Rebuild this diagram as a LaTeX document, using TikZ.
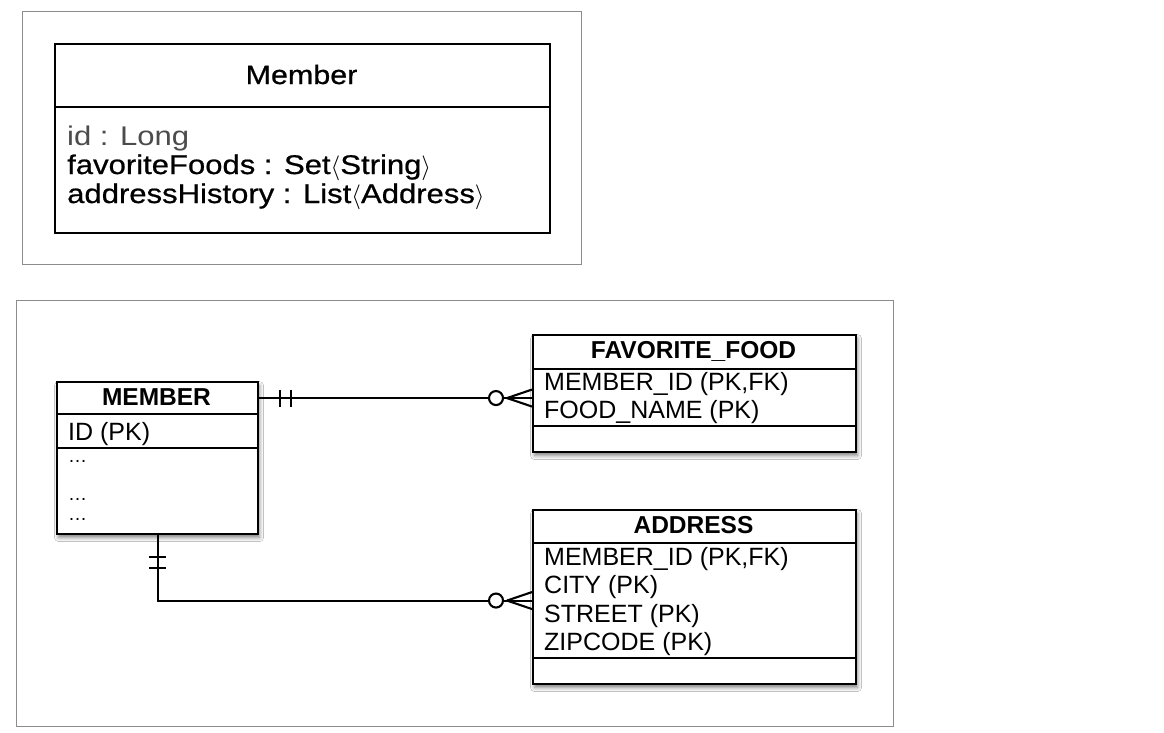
\documentclass[tikz,border=0pt]{standalone}
\usepackage{fontspec}
\setmainfont{Liberation Sans}
\newfontfamily\umlfont[FakeStretch=1.15]{Liberation Sans}
\newfontfamily\umlfontm[FakeStretch=1.15, FakeBold=0.7]{Liberation Sans}
\usetikzlibrary{calc,shadows.blur}
\begin{document}
\begin{tikzpicture}[x=1pt,y=-1pt,
  frame/.style={draw=black!45, line width=1.4pt, inner sep=0pt, anchor=north west},
  box/.style={draw=black, line width=2.1pt, fill=white, inner sep=0pt, anchor=north west},
  tblshadow/.style={blur shadow={shadow xshift=1.5pt, shadow yshift=-3.5pt,
      shadow blur radius=4pt, shadow opacity=50}},
  conn/.style={line width=2.1pt, draw=black},
  headtext/.style={font=\fontsize{24.5}{28}\selectfont\bfseries, anchor=base, inner sep=0pt},
  attrtext/.style={font=\fontsize{25}{28}\selectfont, anchor=base west, inner sep=0pt},
  dotstext/.style={font=\fontsize{19}{20}\selectfont, anchor=base west, inner sep=0pt},
  umltitle/.style={font=\umlfontm\fontsize{26.5}{30}\selectfont, anchor=base, inner sep=0pt},
  umlattr/.style={font=\umlfontm\fontsize{27}{29}\selectfont, anchor=base west, inner sep=0pt},
  umlattrlight/.style={font=\umlfont\fontsize{27}{29}\selectfont, anchor=base west, inner sep=0pt, text=black!70},
  onebar/.pic={\draw[conn] (0,-8.5) -- (0,8.5);},
  manyopt/.pic={
    \draw[conn] (-25,0) -- (0,-8.5);
    \draw[conn] (-25,0) -- (0,8.5);
    \draw[conn, fill=white] (-36,0) circle (7);
  },
]
\useasboundingbox (0,0) rectangle (1164,732);
\fill[white] (0,0) rectangle (1164,732);

% ---- class view ----
\node[frame, minimum width=559pt, minimum height=253pt] (umlframe) at (22,11) {};
\node[box, minimum width=495pt, minimum height=189pt] (umlbox) at (54,43) {};
\node[box, minimum width=495pt, minimum height=63pt] (umlhead) at (54,43) {};
\node[umltitle] (umlname) at (301.5,84) {Member};
\node[umlattrlight] (fid) at (67,145) {id : Long};
\node[umlattr] (ffoods) at (67,174) {favoriteFoods : Set$\langle$String$\rangle$};
\node[umlattr] (fhist) at (67,203) {addressHistory : List$\langle$Address$\rangle$};

% ---- table view ----
\node[frame, minimum width=877pt, minimum height=426pt] (erdframe) at (16,300) {};

% MEMBER
\node[box, tblshadow, minimum width=201pt, minimum height=152pt] (member) at (56,381) {};
\node[box, minimum width=201pt, minimum height=32pt] (mhead) at (56,381) {};
\node[box, minimum width=201pt, minimum height=34pt] (mid) at (56,413) {};
\node[headtext] (mname) at (156.5,405) {MEMBER};
\node[attrtext] (mpk) at (68,440) {ID (PK)};
\node[dotstext] (mdots1) at (68,462) {…};
\node[dotstext] (mdots2) at (68,500) {…};
\node[dotstext] (mdots3) at (68,520) {…};

% FAVORITE_FOOD
\node[box, tblshadow, minimum width=323pt, minimum height=117pt] (food) at (532,334) {};
\node[box, minimum width=323pt, minimum height=34pt] (fhead) at (532,334) {};
\node[box, minimum width=323pt, minimum height=57pt] (fattr) at (532,368) {};
\node[headtext] (fname) at (693.5,358) {FAVORITE\_FOOD};
\node[attrtext] (fa1) at (544,390) {MEMBER\_ID (PK,FK)};
\node[attrtext] (fa2) at (544,418) {FOOD\_NAME (PK)};

% ADDRESS
\node[box, tblshadow, minimum width=323pt, minimum height=174pt] (addr) at (532,509) {};
\node[box, minimum width=323pt, minimum height=33pt] (ahead) at (532,509) {};
\node[box, minimum width=323pt, minimum height=115pt] (aattr) at (532,542) {};
\node[headtext] (aname) at (693.5,533) {ADDRESS};
\node[attrtext] (aa1) at (544,565) {MEMBER\_ID (PK,FK)};
\node[attrtext] (aa2) at (544,593) {CITY (PK)};
\node[attrtext] (aa3) at (544,622) {STREET (PK)};
\node[attrtext] (aa4) at (544,650) {ZIPCODE (PK)};

% relationships
\draw[conn] (mhead.east) -- (mhead.east -| fattr.west);
\pic at ($(mhead.east)+(21,0)$) {onebar};
\pic at ($(mhead.east)+(32,0)$) {onebar};
\pic at (mhead.east -| fattr.west) {manyopt};

\draw[conn] (member.south) |- (aattr.west);
\pic[rotate=90] at ($(member.south)+(0,22)$) {onebar};
\pic[rotate=90] at ($(member.south)+(0,33)$) {onebar};
\pic at (aattr.west) {manyopt};
\end{tikzpicture}
\end{document}
